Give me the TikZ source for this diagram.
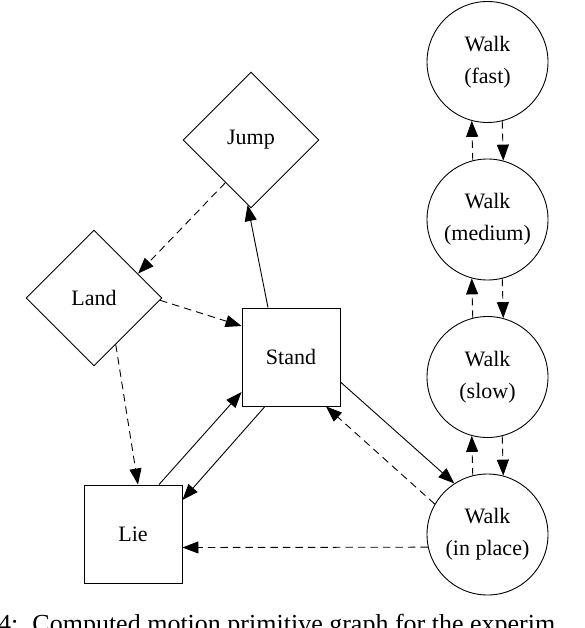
\documentclass[tikz,border=0pt]{standalone}
\usepackage{fontspec}
\setmainfont{Liberation Serif}
\usetikzlibrary{shapes.geometric,arrows.meta,calc}
\tikzset{
  lbl/.style={font=\fontsize{22}{32}\selectfont},
  boxnode/.style={lbl, draw, rectangle, minimum width=98pt, minimum height=98pt, inner sep=0pt},
  dia/.style={lbl, draw, diamond, minimum width=136pt, minimum height=136pt, inner sep=0pt},
  walk/.style={lbl, draw, circle, minimum size=121pt, inner sep=0pt, align=center},
  tr/.style={-{Triangle[length=16pt,width=12pt]}},
  dsh/.style={tr, dash pattern=on 7.5pt off 5pt},
}
\begin{document}
\begin{tikzpicture}[x=1pt,y=-1pt,line width=0.9pt]
\useasboundingbox (0,0) rectangle (584,628);
\clip (0,0) rectangle (584,628);
% nodes
\node[dia] (jump) at (251,140) {Jump};
\node[dia] (land) at (94,298) {Land};
\node[boxnode] (stand) at (291,357) {Stand};
\node[boxnode] (lie) at (133,534) {Lie};
\node[walk] (wf) at (487.5,62) {Walk\\(fast)};
\node[walk] (wm) at (487.5,219.5) {Walk\\(medium)};
\node[walk] (ws) at (487.5,377) {Walk\\(slow)};
\node[walk] (wp) at (487.5,534.5) {Walk\\(in place)};
% edges
\draw[tr] ($(stand.north)+(-23,0)$) -- (jump.267);
\draw[dsh] (jump.239) -- (land.29);
\draw[dsh] (land.-2) -- ($(stand.west)+(0,-31)$);
\draw[dsh] (land.-65) -- ($(lie.north)+(5,0)$);
\draw[tr] ($(lie.north)+(26,0)$) -- ($(stand.west)+(0,35)$);
\draw[tr] ($(stand.south)+(-26,0)$) -- ($(lie.east)+(0,-34)$);
\draw[tr] ($(stand.east)+(0,25)$) -- (wp.123);
\draw[dsh] (wp.150) -- ($(stand.south)+(35,0)$);
\draw[dsh] (wp.192.5) -- ($(lie.east)+(0,13.5)$);
% walk chain
\draw[dsh] (wm.104.8) -- (wf.255.2);
\draw[dsh] (wf.284.8) -- (wm.75.2);
\draw[dsh] (ws.104.8) -- (wm.255.2);
\draw[dsh] (wm.284.8) -- (ws.75.2);
\draw[dsh] (wp.104.8) -- (ws.255.2);
\draw[dsh] (ws.284.8) -- (wp.75.2);
% caption (clipped as in the picture)
\node[anchor=base west, inner sep=0pt, font=\fontsize{26}{30}\selectfont] (cap) at (32,632) {\llap{4:\kern 14pt}Computed motion primitive graph for the experim};
\end{tikzpicture}
\end{document}
